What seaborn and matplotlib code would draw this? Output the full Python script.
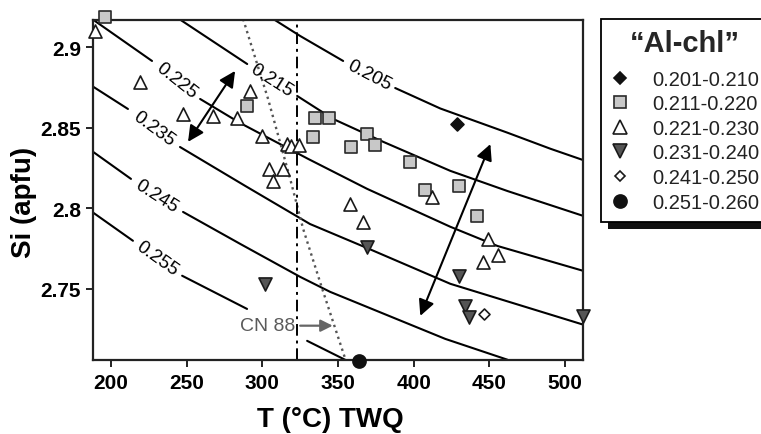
import numpy as np
import pandas as pd
import seaborn as sns
import matplotlib.pyplot as plt
from matplotlib.lines import Line2D
from matplotlib.patches import Rectangle

# Al-chl isopleths, T (degC) / Si (apfu); nan = gap for label
iso_levels = ['0.205', '0.215', '0.225', '0.235', '0.245', '0.255']
iso_T = [
    [307.1, 325.0, 353.4, np.nan, 387.8, 417.6, 461.9, 490.4, 513.5],
    [245.6, 290.0, np.nan, 323.0, 346.8, 379.9, 424.2, 461.9, 512.2],
    [189.4, 227.1, np.nan, 258.9, 285.3, 330.3, 369.3, 424.2, 455.3, 512.2],
    [187.4, 211.2, np.nan, 245.6, 288.6, 331.5, 369.2, 424.2, 512.2],
    [187.4, 213.2, np.nan, 247.6, 285.3, 325.0, 344.8, 420.9, 461.9],
    [187.4, 214.5, np.nan, 247.0, 289.9, np.nan, 329.6, 354.8],
]
iso_Si = [
    [2.9176, 2.907, 2.8915, np.nan, 2.8747, 2.862, 2.847, 2.837, 2.8295],
    [2.9172, 2.8896, np.nan, 2.8698, 2.8555, 2.8413, 2.8233, 2.8108, 2.7953],
    [2.9163, 2.8915, np.nan, 2.8679, 2.853, 2.8307, 2.8121, 2.7886, 2.7767, 2.7612],
    [2.876, 2.8617, np.nan, 2.8381, 2.814, 2.7903, 2.7754, 2.7532, 2.7278],
    [2.8356, 2.8183, np.nan, 2.7978, 2.778, 2.7575, 2.7482, 2.719, 2.7061],
    [2.7979, 2.7799, np.nan, 2.7582, 2.7376, np.nan, 2.7178, 2.706],
]
# where the level numbers sit on each curve, and their slope on screen
lab_T = [370.5, 306.4, 243.0, 228.4, 230.4, 230.7]
lab_Si = [2.8831, 2.8797, 2.8797, 2.8499, 2.808, 2.7689]
lab_rot = [-27.4, -32.6, -38.4, -36.2, -32.4, -35.5]

# CN 88 line and TWQ vertical
cn_T = [287.3, 303.8, 318.4, 327.0, 339.6, 354.8]
cn_Si = [2.9175, 2.8679, 2.8183, 2.7872, 2.7500, 2.7066]
twq_T = 323.0

# chlorite analyses grouped by Al-chl
al_bins = ['0.201-0.210', '0.211-0.220', '0.221-0.230',
           '0.231-0.240', '0.241-0.250', '0.251-0.260']
dia_T = [428.8]
dia_Si = [2.8524]
sq_T = [196.0, 290.0, 334.9, 344.2, 333.6, 369.3, 358.7, 374.6, 397.8, 407.7, 430.2, 442.1]
sq_Si = [2.9188, 2.8636, 2.8561, 2.8561, 2.8443, 2.8462, 2.8381, 2.8394, 2.8288, 2.8114, 2.8139, 2.7953]
tri_T = [189.4, 219.2, 247.6, 267.5, 283.3, 291.9, 299.9, 316.4, 319.1, 324.3,
         304.5, 313.8, 307.1, 358.1, 366.7, 412.3, 449.3, 456.0, 446.0]
tri_Si = [2.9101, 2.8784, 2.8586, 2.8573, 2.8561, 2.8729, 2.8450, 2.8400, 2.8388, 2.8394,
          2.8245, 2.8245, 2.8171, 2.8028, 2.7917, 2.8071, 2.7810, 2.7711, 2.7667]
tdn_T = [301.9, 369.3, 430.2, 434.1, 436.8, 512.2]
tdn_Si = [2.7532, 2.7762, 2.7582, 2.7396, 2.7327, 2.7333]
wdia_T = [446.7]
wdia_Si = [2.7344]
circ_T = [364.0]
circ_Si = [2.7054]

# double arrows (start, end)
arr_T = [(250.9, 282.0), (404.4, 450.7)]
arr_Si = [(2.8413, 2.8853), (2.7333, 2.8399)]

x_ticks = [200, 250, 300, 350, 400, 450, 500]
y_ticks = [2.75, 2.8, 2.85, 2.9]
y_tick_labels = ['2.75', '2.8', '2.85', '2.9']

sns.set_style('ticks')
plt.rcParams['font.family'] = ['Liberation Sans', 'DejaVu Sans']

fig = plt.figure(figsize=(7.61, 4.35), dpi=100)
ax = fig.add_axes([0.1226, 0.1701, 0.6439, 0.7823])

rows = []
for lev, ts, ss in zip(iso_levels, iso_T, iso_Si):
    seg = 0
    for t, s in zip(ts, ss):
        if np.isnan(t):
            seg += 1
            continue
        rows.append((lev + '_' + str(seg), t, s))
iso = pd.DataFrame(rows, columns=['seg', 'T', 'Si'])
sns.lineplot(data=iso, x='T', y='Si', units='seg', estimator=None, sort=False,
             color='black', lw=1.5, ax=ax, zorder=2)

for lev, t, s, r in zip(iso_levels, lab_T, lab_Si, lab_rot):
    ax.text(t, s, lev, rotation=r, rotation_mode='anchor', ha='center', va='center',
            fontsize=13.5, color='black', zorder=3)

sns.lineplot(x=cn_T, y=cn_Si, sort=False, color='#555555', ls=':', lw=1.7, ax=ax, zorder=2)
ax.axvline(twq_T, color='black', lw=1.4, ls=(0, (6, 2.5, 1.5, 2.5)), zorder=2)

ax.text(321.7, 2.7272, 'CN 88', ha='right', va='center', fontsize=14, color='#5a5a5a')
ax.annotate('', xy=(346.5, 2.7272), xytext=(325.0, 2.7272),
            arrowprops=dict(arrowstyle='-|>', color='#666666', lw=1.6,
                            mutation_scale=18, shrinkA=0, shrinkB=0))

for (t0, t1), (s0, s1) in zip(arr_T, arr_Si):
    ax.annotate('', xy=(t1, s1), xytext=(t0, s0),
                arrowprops=dict(arrowstyle='<|-|>', color='black', lw=1.5,
                                mutation_scale=24, shrinkA=0, shrinkB=0), zorder=3)

# marker, size, face, edge
groups = [
    (dia_T, dia_Si, 'D', 6.6, '#111111', '#111111'),
    (sq_T, sq_Si, 's', 8.6, '#c8c8c8', '#2a2a2a'),
    (tri_T, tri_Si, '^', 9.4, 'white', '#1a1a1a'),
    (tdn_T, tdn_Si, 'v', 9.4, '#555555', '#1a1a1a'),
    (wdia_T, wdia_Si, 'D', 5.6, 'white', '#1a1a1a'),
    (circ_T, circ_Si, 'o', 9.4, '#111111', '#111111'),
]
handles = []
for t, s, m, ms, fc, ec in groups:
    sns.scatterplot(x=t, y=s, marker=m, s=ms ** 2, color=fc, edgecolor=ec,
                    linewidth=1.2, clip_on=False, zorder=5, ax=ax, legend=False)
    handles.append(Line2D([], [], ls='none', marker=m, ms=ms, mfc=fc, mec=ec, mew=1.2))

ax.set_xlim(188.3, 512.1)
ax.set_ylim(2.7059, 2.9171)
ax.set_xticks(x_ticks)
ax.set_yticks(y_ticks)
ax.set_yticklabels(y_tick_labels)
ax.tick_params(labelsize=15, width=1.4, length=5, pad=4, color='#222222', labelcolor='black')
for lbl in ax.get_xticklabels() + ax.get_yticklabels():
    lbl.set_fontweight('bold')
for sp in ax.spines.values():
    sp.set_linewidth(1.6)
    sp.set_color('#222222')

ax.set_xlabel('T (°C) TWQ', fontsize=20, fontweight='bold', color='black')
ax.set_ylabel('Si (apfu)', fontsize=20, fontweight='bold', color='black')
ax.xaxis.set_label_coords(0.483, -0.135)
ax.yaxis.set_label_coords(-0.115, 0.467)

leg = fig.legend(handles, al_bins, loc='upper left', bbox_to_anchor=(601 / 761, 1 - 20 / 435),
                 borderaxespad=0, title='\u201cAl-chl\u201d',
                 title_fontproperties={'weight': 'bold', 'size': 21}, fontsize=14.5,
                 frameon=True, fancybox=False, edgecolor='black', framealpha=1,
                 borderpad=0.5, handlelength=0.85, handletextpad=1.2, labelspacing=0.28)
leg.get_frame().set_linewidth(1.3)
leg._legend_box.sep = 9
for txt in leg.get_texts():
    txt.set_color('#222222')

# solid drop shadow under the legend box
fig.canvas.draw()
bb = leg.get_window_extent()
inv = fig.transFigure.inverted()
(x0, y0), (x1, y1) = inv.transform([[bb.x0 + 7, bb.y0 - 7], [bb.x1 + 7, bb.y1 - 7]])
fig.add_artist(Rectangle((x0, y0), x1 - x0, y1 - y0, transform=fig.transFigure,
                         facecolor='#111111', edgecolor='none', zorder=4))
leg.set_zorder(6)

fig.savefig('out.png', dpi=100)
